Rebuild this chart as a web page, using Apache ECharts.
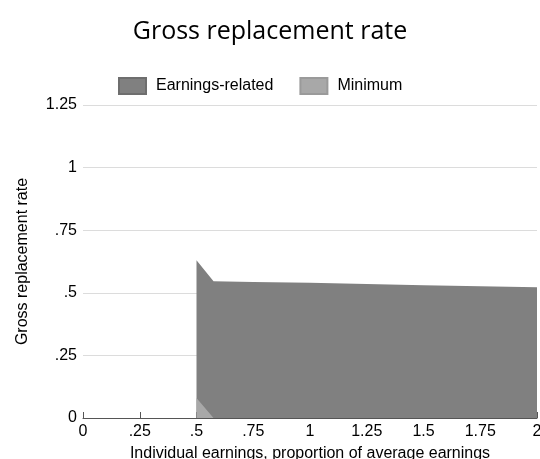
<!DOCTYPE html>
<html><head><meta charset="utf-8">
<script src="https://cdn.jsdelivr.net/npm/echarts@6/dist/echarts.min.js"></script>
<style>html,body{margin:0;padding:0;background:#fff}#c{width:540px;height:459px}</style>
</head><body><div id="c"></div>
<script>
var earnings = [0.5, 0.575, 0.75, 1, 1.25, 1.5, 1.75, 2];
var minimumVals = [0.08, 0, 0, 0, 0, 0, 0, 0];
var earningsRelatedVals = [0.55, 0.546, 0.543, 0.540, 0.535, 0.530, 0.526, 0.522];
var xTicks = ['0', '.25', '.5', '.75', '1', '1.25', '1.5', '1.75', '2'];
var yTicks = ['0', '.25', '.5', '.75', '1', '1.25'];

function fmt(v, arr, step) { var i = Math.round(v / step); return arr[i] !== undefined ? arr[i] : String(v); }

// stacked totals (minimum at bottom, earnings-related on top)
var totalVals = earningsRelatedVals.map(function (v, i) { return v + minimumVals[i]; });

var chart = echarts.init(document.getElementById('c'));
chart.setOption({
  animation: false,
  title: { text: 'Gross replacement rate', left: 'center', top: 14,
    textStyle: { fontFamily: 'Open Sans', fontWeight: 'normal', fontSize: 25, color: '#000' } },
  legend: { top: 77, left: 118, padding: 0, itemWidth: 27, itemHeight: 16, itemGap: 26, icon: 'rect',
    data: ['Earnings-related', 'Minimum'],
    textStyle: { fontFamily: 'Liberation Sans', fontSize: 16, color: '#000', padding: [0, 0, 0, 5] } },
  grid: { left: 83, right: 3, top: 105, bottom: 41, containLabel: false, outerBoundsMode: 'none' },
  xAxis: { type: 'value', min: 0, max: 2, interval: 0.25,
    name: 'Individual earnings, proportion of average earnings', nameLocation: 'middle', nameGap: 28,
    nameTextStyle: { fontFamily: 'Liberation Sans', fontSize: 16, color: '#000' },
    axisLine: { show: true, lineStyle: { color: '#555', width: 1 } },
    axisTick: { show: true, inside: true, length: 6, lineStyle: { color: '#555' } },
    axisLabel: { fontFamily: 'Liberation Sans', fontSize: 16, color: '#000', margin: 6,
      formatter: function (v) { return fmt(v, xTicks, 0.25); } },
    splitLine: { show: false } },
  yAxis: { type: 'value', min: 0, max: 1.25, interval: 0.25,
    name: 'Gross replacement rate', nameLocation: 'middle', nameGap: 52,
    nameTextStyle: { fontFamily: 'Liberation Sans', fontSize: 16, color: '#000' },
    axisLine: { show: false }, axisTick: { show: false },
    axisLabel: { fontFamily: 'Liberation Sans', fontSize: 16, color: '#000', margin: 6,
      formatter: function (v) { return fmt(v, yTicks, 0.25); } },
    splitLine: { show: true, lineStyle: { color: '#dcdcdc', width: 1 } } },
  series: [
    { name: 'Earnings-related', type: 'line', symbol: 'none', z: 2,
      data: earnings.map(function (x, i) { return [x, totalVals[i]]; }),
      lineStyle: { width: 0 }, itemStyle: { color: '#808080', borderColor: '#6e6e6e', borderWidth: 1 },
      areaStyle: { color: '#808080', opacity: 1 } },
    { name: 'Minimum', type: 'line', symbol: 'none', z: 3,
      data: earnings.map(function (x, i) { return [x, minimumVals[i]]; }),
      lineStyle: { width: 0 }, itemStyle: { color: '#a8a8a8', borderColor: '#9a9a9a', borderWidth: 1 },
      areaStyle: { color: '#a8a8a8', opacity: 1 } }
  ]
});
</script></body></html>
